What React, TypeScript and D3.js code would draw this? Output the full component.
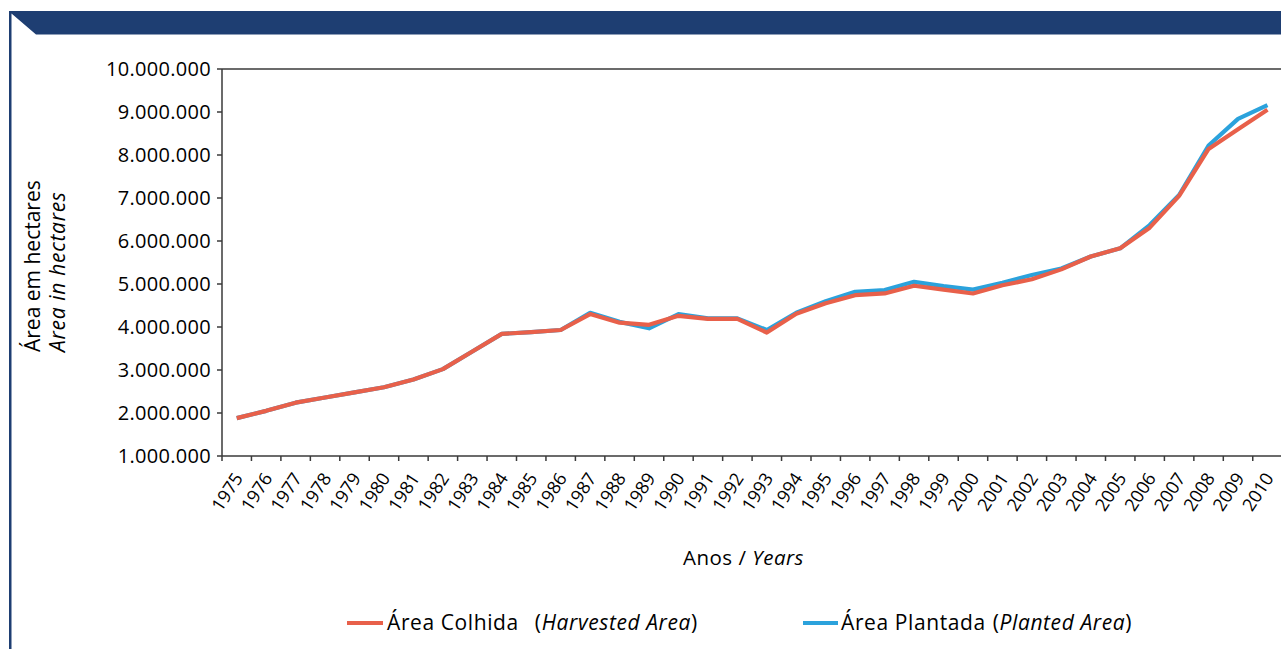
import React from "react";
import * as d3 from "d3";

const years = [
  "1975","1976","1977","1978","1979","1980","1981","1982","1983","1984","1985","1986",
  "1987","1988","1989","1990","1991","1992","1993","1994","1995","1996","1997","1998",
  "1999","2000","2001","2002","2003","2004","2005","2006","2007","2008","2009","2010",
];

// Área Colhida (Harvested Area), hectares
const harvested = [
  1880000, 2050000, 2240000, 2360000, 2480000, 2600000, 2780000, 3020000, 3430000, 3840000, 3880000, 3930000,
  4300000, 4100000, 4050000, 4260000, 4190000, 4190000, 3870000, 4310000, 4550000, 4740000, 4780000, 4960000,
  4870000, 4780000, 4970000, 5110000, 5340000, 5640000, 5830000, 6310000, 7050000, 8140000, 8600000, 9050000,
];

// Área Plantada (Planted Area), hectares
const planted = [
  1880000, 2050000, 2240000, 2360000, 2480000, 2600000, 2780000, 3020000, 3430000, 3840000, 3880000, 3930000,
  4330000, 4120000, 3970000, 4300000, 4200000, 4200000, 3930000, 4330000, 4600000, 4820000, 4860000, 5050000,
  4950000, 4870000, 5030000, 5210000, 5360000, 5640000, 5830000, 6370000, 7070000, 8220000, 8840000, 9160000,
];

const yTicks = [1000000, 2000000, 3000000, 4000000, 5000000, 6000000, 7000000, 8000000, 9000000, 10000000];

const W = 1281;
const H = 649;
const FONT = "'Open Sans', 'Noto Sans', sans-serif";
const NAVY = "#1e3e72";
const AXIS = "#3a3a3a";
const RED = "#e8604a";
const BLUE = "#2ba2dc";

const locale = d3.formatLocale({ decimal: ",", thousands: ".", grouping: [3], currency: ["", ""] });
const fmt = locale.format(",d");

export default function App() {
  const x = d3.scaleBand<string>().domain(years).range([222, 222 + 29.45 * years.length]);
  const y = d3.scaleLinear().domain([1000000, 10000000]).range([456, 69]);
  const cx = (d: string) => (x(d) as number) + x.bandwidth() / 2;

  const line = d3
    .line<number>()
    .x((_, i) => cx(years[i]))
    .y((v) => y(v));

  const x0 = 222;
  const xEnd = W + 2;

  return (
    <svg
      width={W}
      height={H}
      viewBox={`0 0 ${W} ${H}`}
      style={{ position: "absolute", left: 0, top: 0, background: "#fff" }}
      fontFamily={FONT}
    >
      <rect x={0} y={0} width={W} height={H} fill="#fff" />
      {/* frame / banner */}
      <path d={`M9,11 H${W} V34.5 H36 L11.5,13.5 V${H} H9 Z`} fill={NAVY} />

      {/* axes */}
      <line x1={x0} x2={xEnd} y1={y(10000000)} y2={y(10000000)} stroke={AXIS} strokeWidth={1.5} />
      <line x1={x0} x2={x0} y1={y(10000000)} y2={y(1000000)} stroke={AXIS} strokeWidth={1.5} />
      <line x1={x0} x2={xEnd} y1={y(1000000)} y2={y(1000000)} stroke={AXIS} strokeWidth={1.5} />

      {yTicks.map((t) => (
        <g key={t}>
          <line x1={x0 - 5} x2={x0} y1={y(t)} y2={y(t)} stroke={AXIS} strokeWidth={1.5} />
          <text
            x={x0 - 11}
            y={y(t)}
            dy="0.36em"
            textAnchor="end"
            fontSize={20}
            letterSpacing={0.3}
            fill="#000"
          >
            {fmt(t)}
          </text>
        </g>
      ))}

      {years.map((yr) => (
        <line
          key={"t" + yr}
          x1={x(yr) as number}
          x2={x(yr) as number}
          y1={456}
          y2={461}
          stroke={AXIS}
          strokeWidth={1.5}
        />
      ))}
      <line x1={x.range()[1]} x2={x.range()[1]} y1={456} y2={461} stroke={AXIS} strokeWidth={1.5} />

      {years.map((yr) => (
        <text
          key={"l" + yr}
          transform={`translate(${cx(yr) + 7},${478}) rotate(-57)`}
          textAnchor="end"
          fontSize={18}
          fill="#000"
        >
          {yr}
        </text>
      ))}

      {/* series */}
      <path d={line(planted) || ""} fill="none" stroke={BLUE} strokeWidth={4.2} strokeLinejoin="round" />
      <path d={line(harvested) || ""} fill="none" stroke={RED} strokeWidth={4.2} strokeLinejoin="round" />

      {/* y title */}
      <text transform="translate(40,352) rotate(-90)" fontSize={21} fill="#000">
        Área em hectares
      </text>
      <text
        transform="translate(65,352) rotate(-90)"
        fontSize={21}
        letterSpacing={0.7}
        fill="#000"
        fontStyle="italic"
      >
        Area in hectares
      </text>

      {/* x title */}
      <text x={683} y={565} fontSize={20.5} letterSpacing={0.5} fill="#000">
        Anos / <tspan fontStyle="italic">Years</tspan>
      </text>

      {/* legend */}
      <line x1={347} x2={383} y1={623} y2={623} stroke={RED} strokeWidth={4} />
      <text x={387} y={630} fontSize={21} letterSpacing={0.6} fill="#000">
        Área Colhida
        <tspan dx={16}>(</tspan>
        <tspan fontStyle="italic">Harvested Area</tspan>)
      </text>
      <line x1={803} x2={838} y1={623} y2={623} stroke={BLUE} strokeWidth={4} />
      <text x={841} y={630} fontSize={21} letterSpacing={0.6} fill="#000">
        Área Plantada
        <tspan dx={7}>(</tspan>
        <tspan fontStyle="italic">Planted Area</tspan>)
      </text>
    </svg>
  );
}
